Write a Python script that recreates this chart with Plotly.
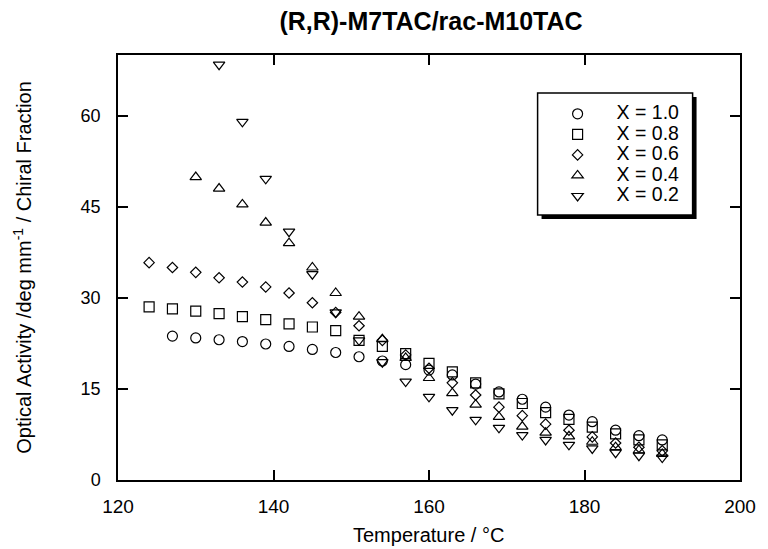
import plotly.graph_objects as go

# temperatures (deg C) per series
t_10 = [127, 130, 133, 136, 139, 142, 145, 148, 151, 154, 157, 160, 163, 166, 169, 172, 175, 178, 181, 184, 187, 190]
t_08 = [124, 127, 130, 133, 136, 139, 142, 145, 148, 151, 154, 157, 160, 163, 166, 169, 172, 175, 178, 181, 184, 187, 190]
t_06 = [124, 127, 130, 133, 136, 139, 142, 145, 148, 151, 154, 157, 160, 163, 166, 169, 172, 175, 178, 181, 184, 187, 190]
t_04 = [130, 133, 136, 139, 142, 145, 148, 151, 154, 157, 160, 163, 166, 169, 172, 175, 178, 181, 184, 187, 190]
t_02 = [133, 136, 139, 142, 145, 148, 151, 154, 157, 160, 163, 166, 169, 172, 175, 178, 181, 184, 187, 190]

# optical activity / chiral fraction
oa_10 = [23.7, 23.4, 23.1, 22.8, 22.4, 22.0, 21.5, 21.0, 20.3, 19.6, 19.0, 18.1, 17.3, 15.8,
         14.5, 13.3, 12.0, 10.7, 9.6, 8.2, 7.3, 6.6]
oa_08 = [28.5, 28.2, 27.8, 27.4, 26.9, 26.4, 25.7, 25.2, 24.6, 23.0, 22.0, 20.8, 19.2, 17.8,
         16.0, 14.2, 12.6, 11.1, 10.0, 8.7, 7.6, 6.6, 5.8]
oa_06 = [35.8, 35.0, 34.2, 33.3, 32.6, 31.8, 30.8, 29.2, 27.6, 25.4, 23.0, 20.6, 18.4, 16.0,
         14.0, 12.0, 10.6, 9.2, 8.2, 7.1, 6.1, 5.4, 4.8]
oa_04 = [49.9, 48.0, 45.4, 42.4, 39.0, 35.0, 30.8, 26.9, 23.2, 20.1, 16.8, 14.3, 12.4, 10.4,
         8.8, 7.8, 7.2, 6.3, 5.4, 4.9, 4.3]
oa_02 = [68.4, 59.0, 49.6, 40.9, 33.9, 27.6, 23.0, 19.4, 16.2, 13.7, 11.5, 9.9, 8.6, 7.4,
         6.6, 5.8, 5.2, 4.5, 4.0, 3.7]

series = [
    ("X = 1.0", t_10, oa_10, "circle-open", 10),
    ("X = 0.8", t_08, oa_08, "square-open", 10),
    ("X = 0.6", t_06, oa_06, "diamond-open", 8),
    ("X = 0.4", t_04, oa_04, "triangle-up-open", 10),
    ("X = 0.2", t_02, oa_02, "triangle-down-open", 10),
]

FONT = "Liberation Sans, Arial, Helvetica, sans-serif"

fig = go.Figure()
for name, t, oa, sym, size in series:
    # legend rows are tighter than the text size, so the label carries its own size
    fig.add_trace(go.Scatter(
        x=t, y=oa, mode="markers", name=f'<span style="font-size:19.5px">{name}</span>',
        marker=dict(symbol=sym, size=size, color="black", line=dict(width=1.2, color="black")),
    ))

axis_common = dict(
    showgrid=False, zeroline=False, showline=True, linecolor="black", linewidth=1.5,
    mirror="ticks", ticks="inside", ticklen=10, tickwidth=1.5, tickcolor="black",
)
fig.update_xaxes(range=[120, 200], dtick=20, tick0=120, ticklabelstandoff=8,
                 tickfont=dict(family=FONT, size=19, color="black"), **axis_common)
fig.update_yaxes(range=[0, 70], dtick=15, tick0=0, ticklabelstandoff=12,
                 tickfont=dict(family=FONT, size=18, color="black"), **axis_common)

# pixel -> paper helpers for the plot area (118..748 x 55..480)
def px_x(p):
    return (p - 118) / 630

def px_y(p):
    return (480 - p) / 425

# legend box with drop shadow
fig.add_shape(type="rect", xref="paper", yref="paper",
              x0=px_x(547), x1=px_x(704), y0=px_y(219), y1=px_y(97),
              fillcolor="black", line=dict(width=0))
fig.add_shape(type="rect", xref="paper", yref="paper",
              x0=px_x(543), x1=px_x(700), y0=px_y(215), y1=px_y(93),
              fillcolor="white", line=dict(width=1.5, color="black"))

fig.add_annotation(text="Temperature / °C", xref="paper", yref="paper",
                   x=px_x(432), y=px_y(535), xanchor="center", yanchor="middle", showarrow=False,
                   font=dict(family=FONT, size=20, color="black"))
fig.add_annotation(text="Optical Activity /deg mm<sup>-1</sup> / Chiral Fraction",
                   xref="paper", yref="paper", x=px_x(21), y=0.5, xanchor="center", yanchor="middle",
                   textangle=-90, showarrow=False, font=dict(family=FONT, size=20, color="black"))

fig.update_layout(
    width=768, height=549,
    margin=dict(l=118, r=20, t=55, b=69),
    paper_bgcolor="white", plot_bgcolor="white",
    title=dict(text="<b>(R,R)-M7TAC/rac-M10TAC</b>", x=431 / 768, xanchor="center",
               y=1 - 21 / 549, yanchor="middle", yref="container",
               font=dict(family=FONT, size=25, color="black")),
    showlegend=True,
    legend=dict(x=px_x(544), xanchor="left", y=px_y(155), yanchor="middle",
                itemwidth=68, bgcolor="rgba(0,0,0,0)", borderwidth=0,
                font=dict(family=FONT, size=13.5, color="black")),
)

# drop the default 8px page margin (and any scrollbars) so the 768x549 figure fills the window
fig.write_html(
    "out.html",
    config={"displayModeBar": False},
    post_script="document.body.style.margin = '0'; document.documentElement.style.overflow = 'hidden';",
)
